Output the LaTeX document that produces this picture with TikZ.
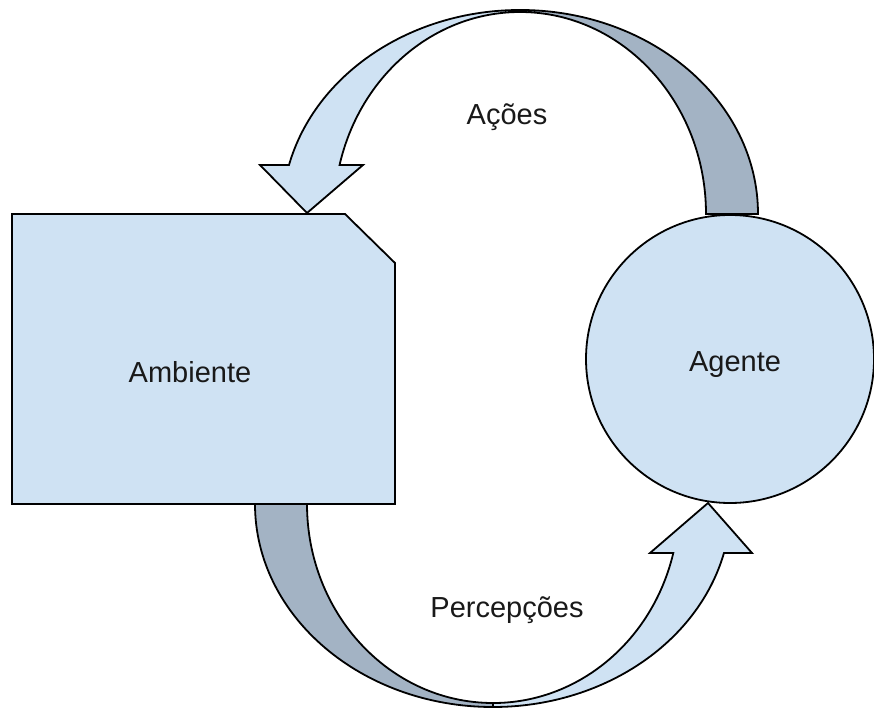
\documentclass[tikz,border=0pt]{standalone}
\usepackage{fontspec}
\setmainfont{Liberation Sans}
\definecolor{boxblue}{HTML}{CFE2F3}
\definecolor{bandgray}{HTML}{A3B3C4}

\begin{document}
\begin{tikzpicture}[x=1pt,y=-1pt,line width=1.8pt,line join=miter]
\tikzset{txt/.style={font=\fontsize{29}{34}\selectfont,anchor=base,text=black!90}}
\useasboundingbox (0,0) rectangle (874,708);

% curved arrow on top (Agente -> Ambiente)
\draw[fill=bandgray] (758,214) arc[start angle=0,end angle=-90,x radius=238,y radius=204]
  -- (520,12) arc[start angle=-90,end angle=0,x radius=186,y radius=202] -- cycle;
\draw[fill=boxblue] (307,213) -- (260,165) -- (289.0,165)
  arc[start angle=-166.1,end angle=-90,x radius=238,y radius=204]
  -- (520,12) arc[start angle=-90,end angle=-165.96,x radius=186,y radius=202]
  -- (363,165) -- cycle;

% curved arrow below (Ambiente -> Agente)
\draw[fill=bandgray] (255,504) arc[start angle=180,end angle=90,x radius=238,y radius=203]
  -- (493,703) arc[start angle=90,end angle=180,x radius=186,y radius=199] -- cycle;
\draw[fill=boxblue] (493,707) arc[start angle=90,end angle=13.97,x radius=238,y radius=203]
  -- (752,553) -- (708,503) -- (650,553) -- (673.3,553)
  arc[start angle=14.25,end angle=90,x radius=186,y radius=199] -- cycle;

% Ambiente
\draw[fill=boxblue] (12,214) -- (345,214) -- (395,263) -- (395,504) -- (12,504) -- cycle;
% Agente
\draw[fill=boxblue] (730,359) circle[radius=144];

\node[txt] (ambiente) at (190,382) {Ambiente};
\node[txt] (agente) at (735,371) {Agente};
\node[txt] (acoes) at (507,125) {Ações};
\node[txt] (percepcoes) at (507,617) {Percepções};

\end{tikzpicture}
\end{document}
